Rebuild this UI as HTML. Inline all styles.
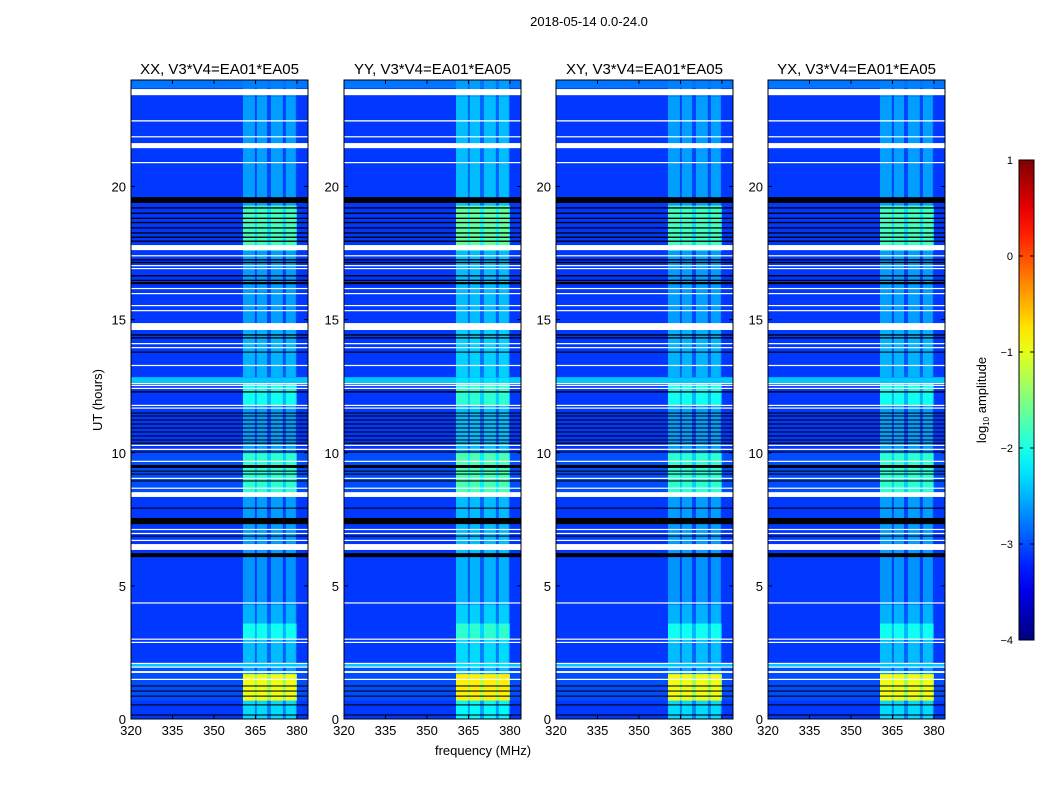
<!DOCTYPE html>
<html><head><meta charset="utf-8">
<style>
html,body{margin:0;padding:0;background:#fff;}
svg{display:block;font-family:"Liberation Sans","DejaVu Sans",sans-serif;}
</style></head>
<body>
<svg id="chart" width="1050" height="800" viewBox="0 0 1050 800" xmlns="http://www.w3.org/2000/svg">
<defs>
<linearGradient id="jetGrad" x1="0" y1="1" x2="0" y2="0"></linearGradient>
</defs>
<text x="589" y="26" font-size="13" text-anchor="middle">2018-05-14 0.0-24.0</text>
<text x="102" y="400" font-size="13" text-anchor="middle" transform="rotate(-90 102 400)">UT (hours)</text>
<text x="483" y="755" font-size="13" text-anchor="middle">frequency (MHz)</text>
<g id="panels"></g>
<g id="cbar"></g>
</svg>
<script>
// ---- data ----
const panelTitles = ["XX, V3*V4=EA01*EA05","YY, V3*V4=EA01*EA05","XY, V3*V4=EA01*EA05","YX, V3*V4=EA01*EA05"];
const panelOffsets = [0, 0.15, 0, 0];
const xTicks = [320,335,350,365,380];
const yTicks = [0,5,10,15,20];
const cbarTicks = [1,0,-1,-2,-3,-4];
const cbarLabels = ["1","0","\u22121","\u22122","\u22123","\u22124"];
// RFI frequency bands [fStart, fEnd] MHz
const rfiBands = [[360.5,364.8],[365.5,369.2],[370.6,374.9],[376,379.6]];
const rfiRegion = [360.5,380];
// time segments [hStart, hEnd, backgroundLog, bandLog]
const segments = [
 [0,0.7,-3.1,-2.3],[0.7,1.7,-3.0,-0.95],[1.7,1.97,-3.0,-2.6],[1.97,2.08,-2.4,-2.4],
 [2.08,3.0,-3.1,-2.45],[3.0,3.6,-3.1,-2.05],[3.6,4.3,-3.1,-2.5],[4.3,6.1,-3.1,-2.65],
 [6.1,8.5,-3.1,-2.6],[8.5,10.0,-3.0,-1.9],[10.0,11.8,-3.1,-2.6],[11.8,12.6,-3.1,-2.05],
 [12.6,12.85,-2.4,-2.4],[12.85,14.7,-3.1,-2.5],[14.7,17.6,-3.1,-2.6],[17.6,19.3,-3.1,-1.8],
 [19.3,23.4,-3.1,-2.6],[23.4,23.7,-3.1,-2.7],[23.7,24,-2.8,-2.75]
];
// flagged rows: white (no data)
const whiteRows = [
 [23.43,23.66],[22.44,22.49],[21.85,21.89],[21.44,21.63],[20.88,20.92],[17.61,17.80],
 [17.39,17.42],[17.01,17.05],[16.90,16.94],[16.15,16.19],[15.97,16.0],[15.51,15.55],
 [15.32,15.36],[14.61,14.87],[14.08,14.12],[13.93,13.97],[13.26,13.30],[12.58,12.62],
 [12.52,12.55],[12.41,12.44],[11.77,11.80],[11.66,11.70],[10.27,10.30],[10.12,10.15],
 [9.67,9.70],[9.03,9.06],[8.66,8.69],[8.34,8.52],[7.11,7.14],[6.96,6.99],[6.70,6.73],
 [6.35,6.57],[4.34,4.38],[2.99,3.02],[2.87,2.90],[2.08,2.11],[1.94,1.97],[1.73,1.80],[1.48,1.51]
];
// flagged rows: black (zero amplitude)
const blackRows = [
 [19.38,19.60],[19.17,19.22],[18.97,19.02],[18.78,18.83],[18.62,18.67],[18.42,18.47],
 [18.23,18.28],[18.07,18.12],[17.92,17.97],[17.22,17.27],[17.12,17.17],[16.62,16.67],
 [16.45,16.50],[16.33,16.41],[14.40,14.45],[14.29,14.34],[13.76,13.80],[12.26,12.31],
 [11.47,11.51],[11.36,11.40],[11.21,11.25],[11.06,11.10],[10.91,10.95],[10.76,10.80],
 [10.61,10.65],[10.46,10.50],[10.34,10.38],[10.01,10.05],[9.43,9.54],[9.29,9.33],
 [9.18,9.22],[8.92,8.96],[7.90,7.94],[7.32,7.55],[6.85,6.89],[6.08,6.23],
 [1.22,1.26],[1.03,1.07],[0.84,0.88],[0.51,0.55],[0.13,0.17]
];
// ---- layout ----
const panelLefts = [131,344,556,768];
const panelW = 177, plotTop = 80, plotBottom = 719;
const fMin = 320, fMax = 384, hMin = 0, hMax = 24;
const vMin = -4, vMax = 1;
const NS = "http://www.w3.org/2000/svg";
function jet(v){
  let t=(v-vMin)/(vMax-vMin); t=Math.max(0,Math.min(1,t));
  const c=x=>Math.round(255*Math.max(0,Math.min(1,x)));
  return `rgb(${c(1.5-Math.abs(4*t-3))},${c(1.5-Math.abs(4*t-2))},${c(1.5-Math.abs(4*t-1))})`;
}
function el(tag, attrs, parent){ const e=document.createElementNS(NS,tag); for(const k in attrs) e.setAttribute(k,attrs[k]); parent.appendChild(e); return e; }
const yScale = h => plotBottom - (h-hMin)/(hMax-hMin)*(plotBottom-plotTop);
const panelsG = document.getElementById('panels');
panelLefts.forEach((left,pi)=>{
  const xScale = f => left + (f-fMin)/(fMax-fMin)*panelW;
  const g = el('g',{},panelsG);
  
  
  const off = panelOffsets[pi];
  segments.forEach(s=>{
    const y1=yScale(s[1]), y0=yScale(s[0]);
    const r=el('rect',{x:left,y:y1,width:panelW,height:y0-y1+0.3,fill:jet(s[2])},g);
    
    
    const rr=el('rect',{x:xScale(rfiRegion[0]),y:y1,width:xScale(rfiRegion[1])-xScale(rfiRegion[0]),height:y0-y1+0.3,fill:jet(Math.max(s[2],s[3]-0.45+off))},g);
    
    
    rfiBands.forEach(b=>{
      const c=el('rect',{x:xScale(b[0]),y:y1,width:xScale(b[1])-xScale(b[0]),height:y0-y1+0.3,fill:jet(s[3]+off)},g);
      
      
    });
  });
  blackRows.forEach(r=>{
    const e=el('rect',{x:left,y:yScale(r[1]),width:panelW,height:Math.max(1,yScale(r[0])-yScale(r[1])),fill:'#000'},g);
    
    
  });
  whiteRows.forEach(r=>{
    const e=el('rect',{x:left,y:yScale(r[1]),width:panelW,height:Math.max(1.2,yScale(r[0])-yScale(r[1])),fill:'#fff'},g);
    
    
  });
  const frame=el('rect',{x:left,y:plotTop,width:panelW,height:plotBottom-plotTop,fill:'none',stroke:'#000','stroke-width':1},g);
  
  
  const t=el('text',{x:left+panelW/2,y:74,'font-size':15,'text-anchor':'middle'},g);
  t.textContent=panelTitles[pi];
  
  
  xTicks.forEach(f=>{
    const x=xScale(f);
    el('line',{x1:x,x2:x,y1:plotBottom,y2:plotBottom-4,stroke:'#000'},g);
    el('line',{x1:x,x2:x,y1:plotTop,y2:plotTop+4,stroke:'#000'},g);
    const l=el('text',{x:x,y:plotBottom+16,'font-size':13,'text-anchor':'middle'},g);
    l.textContent=f;
    
    
  });
  yTicks.forEach(h=>{
    const y=yScale(h);
    el('line',{x1:left,x2:left+4,y1:y,y2:y,stroke:'#000'},g);
    el('line',{x1:left+panelW,x2:left+panelW-4,y1:y,y2:y,stroke:'#000'},g);
    const l=el('text',{x:left-5,y:y+5,'font-size':13,'text-anchor':'end'},g);
    l.textContent=h;
    
    
  });
});
// colorbar
const grad=document.getElementById('jetGrad');
for(let i=0;i<=20;i++){ el('stop',{offset:(i/20),'stop-color':jet(vMin+(vMax-vMin)*i/20)},grad); }
const cb=document.getElementById('cbar');
const cbTop=160, cbBot=640, cbX=1019, cbW=15;
const cbY = v => cbBot - (v-vMin)/(vMax-vMin)*(cbBot-cbTop);
const cbr=el('rect',{x:cbX,y:cbTop,width:cbW,height:cbBot-cbTop,fill:'url(#jetGrad)',stroke:'#000','stroke-width':1},cb);


cbarTicks.forEach((v,i)=>{
  const y=cbY(v);
  el('line',{x1:cbX,x2:cbX+4,y1:y,y2:y,stroke:'#000'},cb);
  el('line',{x1:cbX+cbW,x2:cbX+cbW-4,y1:y,y2:y,stroke:'#000'},cb);
  const l=el('text',{x:cbX-6,y:y+4,'font-size':11,'text-anchor':'end'},cb);
  l.textContent=cbarLabels[i];
  
  
});
const cl=el('text',{x:986,y:400,'font-size':13,'text-anchor':'middle',transform:'rotate(-90 986 400)'},cb);
cl.innerHTML='log<tspan font-size="8" dy="3">10</tspan><tspan dy="-3"> amplitude</tspan>';


</script>
</body></html>
